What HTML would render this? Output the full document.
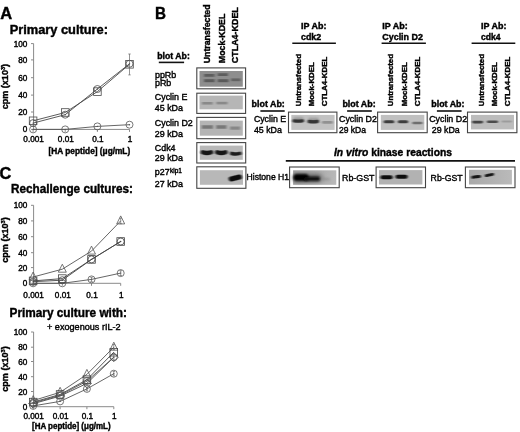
<!DOCTYPE html>
<html><head><meta charset="utf-8"><title>Figure</title>
<style>html,body{margin:0;padding:0;background:#fff}svg{display:block;filter:blur(0.35px)}text{font-family:"Liberation Sans",sans-serif;fill:#000;stroke:#000;stroke-width:0.4px}</style>
</head><body>
<svg width="520" height="432" viewBox="0 0 520 432">
<defs><filter id="b1" filterUnits="userSpaceOnUse" x="0" y="0" width="520" height="432"><feGaussianBlur stdDeviation="0.9 0.7"/></filter><filter id="b4" filterUnits="userSpaceOnUse" x="0" y="0" width="520" height="432"><feGaussianBlur stdDeviation="0.7 0.55"/></filter><filter id="b2" filterUnits="userSpaceOnUse" x="0" y="0" width="520" height="432"><feGaussianBlur stdDeviation="1.2 0.9"/></filter><filter id="b3" filterUnits="userSpaceOnUse" x="0" y="0" width="520" height="432"><feGaussianBlur stdDeviation="2 1.5"/></filter><filter id="b0" filterUnits="userSpaceOnUse" x="0" y="0" width="520" height="432"><feGaussianBlur stdDeviation="0.5"/></filter></defs>
<rect width="520" height="432" fill="#fff"/>
<text x="0.3" y="19" font-size="16.3" font-weight="bold" textLength="11.9" lengthAdjust="spacingAndGlyphs">A</text>
<text x="9.7" y="33.5" font-size="12" font-weight="bold" textLength="98.3" lengthAdjust="spacingAndGlyphs">Primary culture:</text>
<text x="155" y="19.2" font-size="16.3" font-weight="bold" textLength="11" lengthAdjust="spacingAndGlyphs">B</text>
<text x="-0.4" y="179.1" font-size="16.3" font-weight="bold" textLength="11.8" lengthAdjust="spacingAndGlyphs">C</text>
<text x="11" y="193.2" font-size="12" font-weight="bold" textLength="122" lengthAdjust="spacingAndGlyphs">Rechallenge cultures:</text>
<text x="9.5" y="317.1" font-size="12" font-weight="bold" textLength="117.5" lengthAdjust="spacingAndGlyphs">Primary culture with:</text>
<text x="47" y="329.9" font-size="9" textLength="73.6" lengthAdjust="spacingAndGlyphs">+ exogenous rIL-2</text>
<path d="M33.6 43.6V129.4H129.5" fill="none" stroke="#8a8a8a" stroke-width="1"/>
<path d="M31.0 129.4H33.6" stroke="#8a8a8a" stroke-width="1"/>
<text x="27.4" y="132.4" font-size="8.2" text-anchor="end">0</text>
<path d="M31.0 112.0H33.6" stroke="#8a8a8a" stroke-width="1"/>
<text x="27.4" y="115.0" font-size="8.2" text-anchor="end">20</text>
<path d="M31.0 95.1H33.6" stroke="#8a8a8a" stroke-width="1"/>
<text x="27.4" y="98.1" font-size="8.2" text-anchor="end">40</text>
<path d="M31.0 77.7H33.6" stroke="#8a8a8a" stroke-width="1"/>
<text x="27.4" y="80.7" font-size="8.2" text-anchor="end">60</text>
<path d="M31.0 59.9H33.6" stroke="#8a8a8a" stroke-width="1"/>
<text x="27.4" y="62.9" font-size="8.2" text-anchor="end">80</text>
<path d="M31.0 43.6H33.6" stroke="#8a8a8a" stroke-width="1"/>
<text x="27.4" y="46.6" font-size="8.2" text-anchor="end">100</text>
<path d="M33.1 129.4v2.5" stroke="#8a8a8a" stroke-width="1"/>
<path d="M65.2 129.4v2.5" stroke="#8a8a8a" stroke-width="1"/>
<path d="M97.4 129.4v2.5" stroke="#8a8a8a" stroke-width="1"/>
<path d="M129.5 129.4v2.5" stroke="#8a8a8a" stroke-width="1"/>
<text x="33.6" y="142.2" font-size="8.2" text-anchor="middle">0.001</text>
<text x="65.8" y="142.2" font-size="8.2" text-anchor="middle">0.01</text>
<text x="97.9" y="142.2" font-size="8.2" text-anchor="middle">0.1</text>
<text x="130.0" y="142.2" font-size="8.2" text-anchor="middle">1</text>
<text transform="translate(8,86.6) rotate(-90)" font-size="9.05" font-weight="bold" text-anchor="middle">cpm (x10<tspan font-size="5.6" dy="-3.2">3</tspan><tspan dy="3.2">)</tspan></text>
<text x="48.6" y="153.9" font-size="8.2" font-weight="bold" textLength="81.6" lengthAdjust="spacingAndGlyphs">[HA peptide] (&#956;g/mL)</text>
<polyline points="33.1,120.8 65.2,112.5 97.4,91.6 129.5,64.3" fill="none" stroke="#4a4a4a" stroke-width="0.9"/>
<polyline points="33.1,123.1 65.2,114.7 97.4,89.0 129.5,63.8" fill="none" stroke="#4a4a4a" stroke-width="0.9"/>
<polyline points="33.1,129.4 65.2,129.4 97.4,126.4 129.5,124.7" fill="none" stroke="#555" stroke-width="0.9"/>
<rect x="29.3" y="117.0" width="7.6" height="7.6" fill="none" stroke="#4a4a4a" stroke-width="0.8"/>
<rect x="61.5" y="108.7" width="7.6" height="7.6" fill="none" stroke="#4a4a4a" stroke-width="0.8"/>
<rect x="93.6" y="87.8" width="7.6" height="7.6" fill="none" stroke="#4a4a4a" stroke-width="0.8"/>
<rect x="125.7" y="60.5" width="7.6" height="7.6" fill="none" stroke="#4a4a4a" stroke-width="0.8"/>
<circle cx="33.1" cy="123.1" r="3.5" fill="none" stroke="#4a4a4a" stroke-width="0.8"/>
<circle cx="33.1" cy="123.1" r="0.7" fill="#4a4a4a"/>
<circle cx="65.2" cy="114.7" r="3.5" fill="none" stroke="#4a4a4a" stroke-width="0.8"/>
<circle cx="65.2" cy="114.7" r="0.7" fill="#4a4a4a"/>
<circle cx="97.4" cy="89.0" r="3.5" fill="none" stroke="#4a4a4a" stroke-width="0.8"/>
<circle cx="97.4" cy="89.0" r="0.7" fill="#4a4a4a"/>
<circle cx="129.5" cy="63.8" r="3.5" fill="none" stroke="#4a4a4a" stroke-width="0.8"/>
<circle cx="129.5" cy="63.8" r="0.7" fill="#4a4a4a"/>
<circle cx="33.1" cy="129.4" r="3.5" fill="none" stroke="#555" stroke-width="0.8"/>
<circle cx="33.1" cy="129.4" r="0.7" fill="#555"/>
<circle cx="65.2" cy="129.4" r="3.5" fill="none" stroke="#555" stroke-width="0.8"/>
<circle cx="65.2" cy="129.4" r="0.7" fill="#555"/>
<circle cx="97.4" cy="126.4" r="3.5" fill="none" stroke="#555" stroke-width="0.8"/>
<circle cx="97.4" cy="126.4" r="0.7" fill="#555"/>
<circle cx="129.5" cy="124.7" r="3.5" fill="none" stroke="#555" stroke-width="0.8"/>
<circle cx="129.5" cy="124.7" r="0.7" fill="#555"/>
<path d="M129.5 54.0V74.9M128.3 54.0h2.4M128.3 74.9h2.4" stroke="#666" stroke-width="0.7" fill="none"/>
<path d="M33.6 205.3V283.3H120.7" fill="none" stroke="#8a8a8a" stroke-width="1"/>
<path d="M31.0 283.3H33.6" stroke="#8a8a8a" stroke-width="1"/>
<text x="27.4" y="286.3" font-size="8.2" text-anchor="end">0</text>
<path d="M31.0 267.6H33.6" stroke="#8a8a8a" stroke-width="1"/>
<text x="27.4" y="270.6" font-size="8.2" text-anchor="end">20</text>
<path d="M31.0 252.7H33.6" stroke="#8a8a8a" stroke-width="1"/>
<text x="27.4" y="255.7" font-size="8.2" text-anchor="end">40</text>
<path d="M31.0 236.7H33.6" stroke="#8a8a8a" stroke-width="1"/>
<text x="27.4" y="239.7" font-size="8.2" text-anchor="end">60</text>
<path d="M31.0 220.9H33.6" stroke="#8a8a8a" stroke-width="1"/>
<text x="27.4" y="223.9" font-size="8.2" text-anchor="end">80</text>
<path d="M31.0 205.3H33.6" stroke="#8a8a8a" stroke-width="1"/>
<text x="27.4" y="208.3" font-size="8.2" text-anchor="end">100</text>
<path d="M33.1 283.3v2.5" stroke="#8a8a8a" stroke-width="1"/>
<path d="M62.3 283.3v2.5" stroke="#8a8a8a" stroke-width="1"/>
<path d="M91.5 283.3v2.5" stroke="#8a8a8a" stroke-width="1"/>
<path d="M120.7 283.3v2.5" stroke="#8a8a8a" stroke-width="1"/>
<text x="33.6" y="298.1" font-size="8.2" text-anchor="middle">0.001</text>
<text x="62.8" y="298.1" font-size="8.2" text-anchor="middle">0.01</text>
<text x="92.0" y="298.1" font-size="8.2" text-anchor="middle">0.1</text>
<text x="121.2" y="298.1" font-size="8.2" text-anchor="middle">1</text>
<text transform="translate(8,240) rotate(-90)" font-size="9.05" font-weight="bold" text-anchor="middle">cpm (x10<tspan font-size="5.6" dy="-3.2">3</tspan><tspan dy="3.2">)</tspan></text>
<polyline points="33.1,277.0 62.3,269.2 91.5,251.1 120.7,220.9" fill="none" stroke="#555" stroke-width="0.9"/>
<polyline points="33.1,280.9 62.3,278.6 91.5,259.4 120.7,241.5" fill="none" stroke="#444" stroke-width="0.9"/>
<polyline points="33.1,281.7 62.3,280.2 91.5,259.4 120.7,241.5" fill="none" stroke="#444" stroke-width="0.9"/>
<polyline points="33.1,283.3 62.3,283.3 91.5,279.4 120.7,273.1" fill="none" stroke="#555" stroke-width="0.9"/>
<path d="M33.1 272.0l4 8h-8z" fill="none" stroke="#555" stroke-width="0.8"/>
<path d="M62.3 264.2l4 8h-8z" fill="none" stroke="#555" stroke-width="0.8"/>
<path d="M91.5 246.1l4 8h-8z" fill="none" stroke="#555" stroke-width="0.8"/>
<path d="M120.7 215.9l4 8h-8z" fill="none" stroke="#555" stroke-width="0.8"/>
<rect x="29.3" y="277.1" width="7.6" height="7.6" fill="none" stroke="#444" stroke-width="0.8"/>
<rect x="58.5" y="274.8" width="7.6" height="7.6" fill="none" stroke="#444" stroke-width="0.8"/>
<rect x="87.7" y="255.6" width="7.6" height="7.6" fill="none" stroke="#444" stroke-width="0.8"/>
<rect x="116.9" y="237.7" width="7.6" height="7.6" fill="none" stroke="#444" stroke-width="0.8"/>
<circle cx="33.1" cy="281.7" r="3.5" fill="none" stroke="#444" stroke-width="0.8"/>
<circle cx="33.1" cy="281.7" r="0.7" fill="#444"/>
<circle cx="62.3" cy="280.2" r="3.5" fill="none" stroke="#444" stroke-width="0.8"/>
<circle cx="62.3" cy="280.2" r="0.7" fill="#444"/>
<circle cx="91.5" cy="259.4" r="3.5" fill="none" stroke="#444" stroke-width="0.8"/>
<circle cx="91.5" cy="259.4" r="0.7" fill="#444"/>
<circle cx="120.7" cy="241.5" r="3.5" fill="none" stroke="#444" stroke-width="0.8"/>
<circle cx="120.7" cy="241.5" r="0.7" fill="#444"/>
<circle cx="33.1" cy="283.3" r="3.5" fill="none" stroke="#555" stroke-width="0.8"/>
<circle cx="33.1" cy="283.3" r="0.7" fill="#555"/>
<circle cx="62.3" cy="283.3" r="3.5" fill="none" stroke="#555" stroke-width="0.8"/>
<circle cx="62.3" cy="283.3" r="0.7" fill="#555"/>
<circle cx="91.5" cy="279.4" r="3.5" fill="none" stroke="#555" stroke-width="0.8"/>
<circle cx="91.5" cy="279.4" r="0.7" fill="#555"/>
<circle cx="120.7" cy="273.1" r="3.5" fill="none" stroke="#555" stroke-width="0.8"/>
<circle cx="120.7" cy="273.1" r="0.7" fill="#555"/>
<path d="M91.5 277.3V281.4M90.3 277.3h2.4M90.3 281.4h2.4" stroke="#666" stroke-width="0.7" fill="none"/>
<path d="M120.7 270.7V275.5M119.5 270.7h2.4M119.5 275.5h2.4" stroke="#666" stroke-width="0.7" fill="none"/>
<path d="M120.7 218.2V223.7M119.5 218.2h2.4M119.5 223.7h2.4" stroke="#666" stroke-width="0.7" fill="none"/>
<path d="M33.6 332.0V406.7H113.8" fill="none" stroke="#8a8a8a" stroke-width="1"/>
<path d="M31.0 406.7H33.6" stroke="#8a8a8a" stroke-width="1"/>
<text x="27.4" y="409.7" font-size="8.2" text-anchor="end">0</text>
<path d="M31.0 391.5H33.6" stroke="#8a8a8a" stroke-width="1"/>
<text x="27.4" y="394.5" font-size="8.2" text-anchor="end">20</text>
<path d="M31.0 376.7H33.6" stroke="#8a8a8a" stroke-width="1"/>
<text x="27.4" y="379.7" font-size="8.2" text-anchor="end">40</text>
<path d="M31.0 361.5H33.6" stroke="#8a8a8a" stroke-width="1"/>
<text x="27.4" y="364.5" font-size="8.2" text-anchor="end">60</text>
<path d="M31.0 347.2H33.6" stroke="#8a8a8a" stroke-width="1"/>
<text x="27.4" y="350.2" font-size="8.2" text-anchor="end">80</text>
<path d="M31.0 332.0H33.6" stroke="#8a8a8a" stroke-width="1"/>
<text x="27.4" y="335.0" font-size="8.2" text-anchor="end">100</text>
<path d="M33.2 406.7v2.5" stroke="#8a8a8a" stroke-width="1"/>
<path d="M60.1 406.7v2.5" stroke="#8a8a8a" stroke-width="1"/>
<path d="M86.9 406.7v2.5" stroke="#8a8a8a" stroke-width="1"/>
<path d="M113.8 406.7v2.5" stroke="#8a8a8a" stroke-width="1"/>
<text x="33.7" y="419" font-size="8.2" text-anchor="middle">0.001</text>
<text x="60.6" y="419" font-size="8.2" text-anchor="middle">0.01</text>
<text x="87.4" y="419" font-size="8.2" text-anchor="middle">0.1</text>
<text x="114.3" y="419" font-size="8.2" text-anchor="middle">1</text>
<text transform="translate(8,369) rotate(-90)" font-size="9.05" font-weight="bold" text-anchor="middle">cpm (x10<tspan font-size="5.6" dy="-3.2">3</tspan><tspan dy="3.2">)</tspan></text>
<text x="32" y="428.9" font-size="8.2" font-weight="bold" textLength="78.6" lengthAdjust="spacingAndGlyphs">[HA peptide] (&#956;g/mL)</text>
<polyline points="33.2,400.6 60.1,392.3 86.9,374.4 113.8,347.2" fill="none" stroke="#555" stroke-width="0.9"/>
<polyline points="33.2,402.1 60.1,394.5 86.9,379.7 113.8,352.2" fill="none" stroke="#444" stroke-width="0.9"/>
<polyline points="33.2,403.7 60.1,396.1 86.9,383.4 113.8,357.2" fill="none" stroke="#444" stroke-width="0.9"/>
<polyline points="33.2,402.9 60.1,395.3 86.9,381.1 113.8,357.2" fill="none" stroke="#555" stroke-width="0.9"/>
<polyline points="33.2,405.9 60.1,401.4 86.9,388.9 113.8,373.7" fill="none" stroke="#555" stroke-width="0.9"/>
<path d="M33.2 395.6l4 8h-8z" fill="none" stroke="#555" stroke-width="0.8"/>
<path d="M60.1 387.3l4 8h-8z" fill="none" stroke="#555" stroke-width="0.8"/>
<path d="M86.9 369.4l4 8h-8z" fill="none" stroke="#555" stroke-width="0.8"/>
<path d="M113.8 342.2l4 8h-8z" fill="none" stroke="#555" stroke-width="0.8"/>
<rect x="29.4" y="398.3" width="7.6" height="7.6" fill="none" stroke="#444" stroke-width="0.8"/>
<rect x="56.3" y="390.7" width="7.6" height="7.6" fill="none" stroke="#444" stroke-width="0.8"/>
<rect x="83.1" y="375.9" width="7.6" height="7.6" fill="none" stroke="#444" stroke-width="0.8"/>
<rect x="110.0" y="348.4" width="7.6" height="7.6" fill="none" stroke="#444" stroke-width="0.8"/>
<path d="M33.2 399.2l4.5 4.5l-4.5 4.5l-4.5 -4.5z" fill="none" stroke="#444" stroke-width="0.8"/>
<path d="M60.1 391.6l4.5 4.5l-4.5 4.5l-4.5 -4.5z" fill="none" stroke="#444" stroke-width="0.8"/>
<path d="M86.9 378.9l4.5 4.5l-4.5 4.5l-4.5 -4.5z" fill="none" stroke="#444" stroke-width="0.8"/>
<path d="M113.8 352.7l4.5 4.5l-4.5 4.5l-4.5 -4.5z" fill="none" stroke="#444" stroke-width="0.8"/>
<circle cx="33.2" cy="402.9" r="3.5" fill="none" stroke="#555" stroke-width="0.8"/>
<circle cx="33.2" cy="402.9" r="0.7" fill="#555"/>
<circle cx="60.1" cy="395.3" r="3.5" fill="none" stroke="#555" stroke-width="0.8"/>
<circle cx="60.1" cy="395.3" r="0.7" fill="#555"/>
<circle cx="86.9" cy="381.1" r="3.5" fill="none" stroke="#555" stroke-width="0.8"/>
<circle cx="86.9" cy="381.1" r="0.7" fill="#555"/>
<circle cx="113.8" cy="357.2" r="3.5" fill="none" stroke="#555" stroke-width="0.8"/>
<circle cx="113.8" cy="357.2" r="0.7" fill="#555"/>
<circle cx="33.2" cy="405.9" r="3.5" fill="none" stroke="#555" stroke-width="0.8"/>
<circle cx="33.2" cy="405.9" r="0.7" fill="#555"/>
<circle cx="60.1" cy="401.4" r="3.5" fill="none" stroke="#555" stroke-width="0.8"/>
<circle cx="60.1" cy="401.4" r="0.7" fill="#555"/>
<circle cx="86.9" cy="388.9" r="3.5" fill="none" stroke="#555" stroke-width="0.8"/>
<circle cx="86.9" cy="388.9" r="0.7" fill="#555"/>
<circle cx="113.8" cy="373.7" r="3.5" fill="none" stroke="#555" stroke-width="0.8"/>
<circle cx="113.8" cy="373.7" r="0.7" fill="#555"/>
<path d="M113.8 371.4V375.9M112.6 371.4h2.4M112.6 375.9h2.4" stroke="#666" stroke-width="0.7" fill="none"/>
<path d="M113.8 344.5V349.7M112.6 344.5h2.4M112.6 349.7h2.4" stroke="#666" stroke-width="0.7" fill="none"/>
<path d="M86.9 387.1V390.8M85.7 387.1h2.4M85.7 390.8h2.4" stroke="#666" stroke-width="0.7" fill="none"/>
<path d="M113.8 354.4V360.1M112.6 354.4h2.4M112.6 360.1h2.4" stroke="#666" stroke-width="0.7" fill="none"/>
<text x="157.3" y="59.2" font-size="8.6" font-weight="bold" textLength="32.5" lengthAdjust="spacingAndGlyphs">blot Ab:</text>
<path d="M158.8 62.4H184.1" stroke="#111" stroke-width="1.6"/>
<text transform="translate(210.2,63.3) rotate(-90)" font-size="8.8" font-weight="bold" textLength="58.9" lengthAdjust="spacingAndGlyphs">Untransfected</text>
<text transform="translate(224.9,63.2) rotate(-90)" font-size="8.8" font-weight="bold" textLength="49.6" lengthAdjust="spacingAndGlyphs">Mock-KDEL</text>
<text transform="translate(238.1,63.2) rotate(-90)" font-size="8.8" font-weight="bold" textLength="56" lengthAdjust="spacingAndGlyphs">CTLA4-KDEL</text>
<rect x="196.8" y="67.9" width="48.8" height="20.9" fill="#fff" stroke="#444" stroke-width="1.1"/>
<rect x="199.5" y="71.0" width="43.3" height="15.7" fill="#8e8e8e" filter="url(#b0)"/>
<path d="M204.1 75.4Q209.3 75.4 214.5 75.4" fill="none" stroke="#585858" stroke-width="2.8" stroke-linecap="butt" opacity="0.9" filter="url(#b1)"/>
<path d="M217.7 74.6Q222.8 74.6 227.9 74.6" fill="none" stroke="#585858" stroke-width="2.8" stroke-linecap="butt" opacity="0.9" filter="url(#b1)"/>
<path d="M204.1 80.7Q209.4 80.7 214.7 80.7" fill="none" stroke="#545454" stroke-width="3" stroke-linecap="butt" opacity="0.9" filter="url(#b1)"/>
<path d="M217.7 80.7Q223.1 80.7 228.5 80.7" fill="none" stroke="#545454" stroke-width="3" stroke-linecap="butt" opacity="0.9" filter="url(#b1)"/>
<path d="M231.1 79.8Q235.8 79.8 240.5 79.8" fill="none" stroke="#5c5c5c" stroke-width="2.8" stroke-linecap="butt" opacity="0.85" filter="url(#b1)"/>
<text x="155" y="78" font-size="8.9">ppRb</text>
<text x="155" y="86.2" font-size="8.9">pRb</text>
<rect x="196.8" y="93.2" width="48.8" height="20.2" fill="#fff" stroke="#444" stroke-width="1.1"/>
<rect x="199.5" y="95.6" width="43.3" height="13.7" fill="#b6b6b6" filter="url(#b0)"/>
<path d="M201.9 103.3Q207.3 103.3 212.7 103.3" fill="none" stroke="#858585" stroke-width="2.6" stroke-linecap="butt" opacity="0.9" filter="url(#b1)"/>
<path d="M216.3 103.1Q221.9 103.1 227.5 103.1" fill="none" stroke="#858585" stroke-width="2.6" stroke-linecap="butt" opacity="0.9" filter="url(#b1)"/>
<text x="154.8" y="100.3" font-size="8.9">Cyclin E</text>
<text x="154.8" y="110.8" font-size="8.9">45 kDa</text>
<rect x="196.8" y="117.4" width="48.9" height="21.3" fill="#fff" stroke="#444" stroke-width="1.1"/>
<rect x="199.8" y="120.6" width="43.0" height="15.1" fill="#b4b4b4" filter="url(#b0)"/>
<path d="M201.7 127.0Q207.3 127.0 213.0 127.0" fill="none" stroke="#727272" stroke-width="3.5" stroke-linecap="butt" opacity="0.9" filter="url(#b1)"/>
<path d="M216.2 127.0Q221.3 127.0 226.5 127.0" fill="none" stroke="#727272" stroke-width="3.5" stroke-linecap="butt" opacity="0.9" filter="url(#b1)"/>
<path d="M230.0 128.1Q235.1 128.1 240.1 128.1" fill="none" stroke="#808080" stroke-width="3.2" stroke-linecap="butt" opacity="0.85" filter="url(#b1)"/>
<text x="154.8" y="125.5" font-size="8.9">Cyclin D2</text>
<text x="154.8" y="136.8" font-size="8.9">29 kDa</text>
<rect x="196.8" y="142.6" width="48.9" height="20.4" fill="#fff" stroke="#444" stroke-width="1.1"/>
<rect x="199.8" y="145.6" width="43.0" height="14.2" fill="#b8b8b8" filter="url(#b0)"/>
<path d="M202.8 152.2Q206.9 153.7 211.1 152.2" fill="none" stroke="#141414" stroke-width="4.4" stroke-linecap="round" opacity="1" filter="url(#b1)"/>
<path d="M217.2 152.3Q221.3 153.8 225.5 152.3" fill="none" stroke="#141414" stroke-width="4.4" stroke-linecap="round" opacity="1" filter="url(#b1)"/>
<path d="M231.7 153.4Q235.8 154.6 239.8 153.4" fill="none" stroke="#1c1c1c" stroke-width="3.6" stroke-linecap="round" opacity="1" filter="url(#b1)"/>
<text x="154.8" y="150.6" font-size="8.9">Cdk4</text>
<text x="154.8" y="160.8" font-size="8.9">29 kDa</text>
<rect x="196.8" y="166.8" width="49.1" height="21.5" fill="#fff" stroke="#444" stroke-width="1.1"/>
<rect x="199.9" y="170.2" width="43.1" height="14.6" fill="#b8b8b8" filter="url(#b0)"/>
<path d="M231.2 179.0Q235.3 178.0 239.4 177.0" fill="none" stroke="#0c0c0c" stroke-width="5" stroke-linecap="round" opacity="1" filter="url(#b1)"/>
<text x="154.8" y="175.2" font-size="8.9">p27<tspan font-size="6.5" dy="-2.5" dx="0.4">kip1</tspan></text>
<text x="154.8" y="186.6" font-size="8.9">27 kDa</text>
<text x="246.5" y="180" font-size="9.1" textLength="42.6" lengthAdjust="spacingAndGlyphs">Histone H1</text>
<text x="301" y="29.4" font-size="8.8" font-weight="bold" textLength="25.4" lengthAdjust="spacingAndGlyphs">IP Ab:</text>
<text x="301" y="39.8" font-size="8.8" font-weight="bold" textLength="20.2" lengthAdjust="spacingAndGlyphs">cdk2</text>
<path d="M292.3 43.3H335.9" stroke="#111" stroke-width="1.6"/>
<text x="382.3" y="29.4" font-size="8.8" font-weight="bold" textLength="25.4" lengthAdjust="spacingAndGlyphs">IP Ab:</text>
<text x="382.3" y="39.8" font-size="8.8" font-weight="bold" textLength="40.6" lengthAdjust="spacingAndGlyphs">Cyclin D2</text>
<path d="M381.6 43.3H425.9" stroke="#111" stroke-width="1.6"/>
<text x="481.1" y="29.4" font-size="8.8" font-weight="bold" textLength="25.4" lengthAdjust="spacingAndGlyphs">IP Ab:</text>
<text x="481.1" y="39.8" font-size="8.8" font-weight="bold" textLength="19.5" lengthAdjust="spacingAndGlyphs">cdk4</text>
<path d="M471.6 43.3H515.3" stroke="#111" stroke-width="1.6"/>
<text transform="translate(301.2,106.2) rotate(-90)" font-size="7.8" font-weight="bold" textLength="52.1" lengthAdjust="spacingAndGlyphs">Untransfected</text>
<text transform="translate(314.3,106.2) rotate(-90)" font-size="7.8" font-weight="bold" textLength="43.9" lengthAdjust="spacingAndGlyphs">Mock-KDEL</text>
<text transform="translate(326.7,106.2) rotate(-90)" font-size="7.8" font-weight="bold" textLength="49.4" lengthAdjust="spacingAndGlyphs">CTLA4-KDEL</text>
<text transform="translate(393.0,106.2) rotate(-90)" font-size="7.8" font-weight="bold" textLength="52.1" lengthAdjust="spacingAndGlyphs">Untransfected</text>
<text transform="translate(407.0,106.2) rotate(-90)" font-size="7.8" font-weight="bold" textLength="43.9" lengthAdjust="spacingAndGlyphs">Mock-KDEL</text>
<text transform="translate(419.6,106.2) rotate(-90)" font-size="7.8" font-weight="bold" textLength="49.4" lengthAdjust="spacingAndGlyphs">CTLA4-KDEL</text>
<text transform="translate(484.4,106.2) rotate(-90)" font-size="7.8" font-weight="bold" textLength="52.1" lengthAdjust="spacingAndGlyphs">Untransfected</text>
<text transform="translate(497.1,106.2) rotate(-90)" font-size="7.8" font-weight="bold" textLength="43.9" lengthAdjust="spacingAndGlyphs">Mock-KDEL</text>
<text transform="translate(509.5,106.2) rotate(-90)" font-size="7.8" font-weight="bold" textLength="49.4" lengthAdjust="spacingAndGlyphs">CTLA4-KDEL</text>
<text x="251.6" y="107.3" font-size="8.9" font-weight="bold" textLength="33.2" lengthAdjust="spacingAndGlyphs">blot Ab:</text>
<path d="M260.4 111H284.7" stroke="#111" stroke-width="1.6"/>
<text x="342.4" y="107.3" font-size="8.9" font-weight="bold" textLength="33.2" lengthAdjust="spacingAndGlyphs">blot Ab:</text>
<path d="M347.1 111H371.8" stroke="#111" stroke-width="1.6"/>
<text x="431.3" y="107.3" font-size="8.9" font-weight="bold" textLength="33.2" lengthAdjust="spacingAndGlyphs">blot Ab:</text>
<path d="M436.9 111H461.6" stroke="#111" stroke-width="1.6"/>
<text x="253.9" y="121.9" font-size="9.1" textLength="32.2" lengthAdjust="spacingAndGlyphs">Cyclin E</text>
<text x="253.9" y="132.7" font-size="9.1" textLength="28" lengthAdjust="spacingAndGlyphs">45 kDa</text>
<text x="339" y="121.9" font-size="9.1" textLength="37.8" lengthAdjust="spacingAndGlyphs">Cyclin D2</text>
<text x="339" y="132.8" font-size="9.1" textLength="27" lengthAdjust="spacingAndGlyphs">29 kDa</text>
<text x="429.2" y="121.9" font-size="9.1" textLength="37.9" lengthAdjust="spacingAndGlyphs">Cyclin D2</text>
<text x="431.8" y="132.8" font-size="9.1" textLength="28" lengthAdjust="spacingAndGlyphs">29 kDa</text>
<rect x="288.5" y="112.1" width="48.4" height="20.6" fill="#fff" stroke="#444" stroke-width="1.1"/>
<rect x="291.3" y="114.9" width="43.3" height="15.0" fill="#c2c2c2" filter="url(#b0)"/>
<path d="M295.1 119.4Q298.3 119.4 301.6 119.4" fill="none" stroke="#777" stroke-width="4.5" stroke-linecap="round" opacity="0.55" filter="url(#b2)"/>
<path d="M310.2 120.0Q313.4 120.0 316.6 120.0" fill="none" stroke="#777" stroke-width="4.5" stroke-linecap="round" opacity="0.5" filter="url(#b2)"/>
<path d="M294.1 120.9Q298.2 121.5 302.4 120.9" fill="none" stroke="#303030" stroke-width="3.3" stroke-linecap="round" opacity="1" filter="url(#b1)"/>
<path d="M309.1 121.5Q313.2 122.2 317.4 121.5" fill="none" stroke="#343434" stroke-width="3.3" stroke-linecap="round" opacity="1" filter="url(#b1)"/>
<path d="M323.2 122.4Q327.4 122.4 331.6 122.4" fill="none" stroke="#8c8c8c" stroke-width="2.6" stroke-linecap="round" opacity="0.9" filter="url(#b1)"/>
<rect x="377.6" y="112.1" width="49.6" height="20.6" fill="#fff" stroke="#444" stroke-width="1.1"/>
<rect x="380.8" y="114.9" width="43.5" height="15.0" fill="#c0c0c0" filter="url(#b0)"/>
<path d="M385.1 121.8Q389.0 121.8 392.8 121.8" fill="none" stroke="#3c3c3c" stroke-width="3" stroke-linecap="round" opacity="1" filter="url(#b1)"/>
<path d="M399.3 121.8Q403.0 121.8 406.7 121.8" fill="none" stroke="#3c3c3c" stroke-width="3" stroke-linecap="round" opacity="1" filter="url(#b1)"/>
<path d="M413.5 123.0Q417.4 123.0 421.3 123.0" fill="none" stroke="#666" stroke-width="2.6" stroke-linecap="round" opacity="0.9" filter="url(#b1)"/>
<rect x="467.5" y="112.1" width="49.4" height="20.6" fill="#fff" stroke="#444" stroke-width="1.1"/>
<rect x="471.0" y="114.9" width="43.0" height="14.5" fill="#bcbcbc" filter="url(#b0)"/>
<path d="M473.5 122.1Q477.6 122.1 481.7 122.1" fill="none" stroke="#444" stroke-width="2.8" stroke-linecap="round" opacity="1" filter="url(#b1)"/>
<path d="M488.1 121.8Q492.5 121.8 496.8 121.8" fill="none" stroke="#4c4c4c" stroke-width="2.6" stroke-linecap="round" opacity="1" filter="url(#b1)"/>
<path d="M502.5 121.6Q506.7 121.6 510.9 121.6" fill="none" stroke="#999" stroke-width="2" stroke-linecap="round" opacity="0.9" filter="url(#b1)"/>
<text x="334" y="156.4" font-size="10.9" font-weight="bold" textLength="118" lengthAdjust="spacingAndGlyphs"><tspan font-style="italic">In vitro</tspan> kinase reactions</text>
<path d="M285.8 160.9H515" stroke="#111" stroke-width="1.6"/>
<rect x="289.6" y="167.0" width="49.6" height="20.7" fill="#fff" stroke="#444" stroke-width="1.1"/>
<linearGradient id="g289_166"><stop offset="0" stop-color="#9c9c9c"/><stop offset="1" stop-color="#b8b8b8"/></linearGradient>
<rect x="293.1" y="170.3" width="43.2" height="14.5" fill="url(#g289_166)" filter="url(#b0)"/>
<path d="M297.5 178.0Q307.8 178.0 318.0 178.0" fill="none" stroke="#555" stroke-width="10" stroke-linecap="round" opacity="0.5" filter="url(#b3)"/>
<path d="M296.8 177.6Q301.0 177.6 305.2 177.6" fill="none" stroke="#050505" stroke-width="7" stroke-linecap="round" opacity="1" filter="url(#b2)"/>
<path d="M306.2 178.7Q312.1 178.7 317.9 178.7" fill="none" stroke="#0a0a0a" stroke-width="4.5" stroke-linecap="round" opacity="1" filter="url(#b2)"/>
<path d="M323.2 179.2Q326.0 179.2 328.8 179.2" fill="none" stroke="#777" stroke-width="2.5" stroke-linecap="round" opacity="0.4" filter="url(#b2)"/>
<text x="342" y="180.8" font-size="9.3" textLength="32.5" lengthAdjust="spacingAndGlyphs">Rb-GST</text>
<rect x="376.1" y="167.0" width="49.4" height="20.7" fill="#fff" stroke="#444" stroke-width="1.1"/>
<rect x="379.0" y="170.1" width="43.4" height="14.4" fill="#b2b2b2" filter="url(#b0)"/>
<path d="M382.5 177.2Q386.6 177.2 390.6 177.2" fill="none" stroke="#0c0c0c" stroke-width="4" stroke-linecap="round" opacity="1" filter="url(#b1)"/>
<path d="M397.5 176.7Q401.6 176.7 405.6 176.7" fill="none" stroke="#0c0c0c" stroke-width="4" stroke-linecap="round" opacity="1" filter="url(#b1)"/>
<text x="430.6" y="180.6" font-size="9.2" textLength="32" lengthAdjust="spacingAndGlyphs">Rb-GST</text>
<rect x="465.4" y="167.0" width="49.6" height="20.7" fill="#fff" stroke="#444" stroke-width="1.1"/>
<linearGradient id="g464_166"><stop offset="0" stop-color="#a8a8a8"/><stop offset="1" stop-color="#bababa"/></linearGradient>
<rect x="469.0" y="169.8" width="42.9" height="14.7" fill="url(#g464_166)" filter="url(#b0)"/>
<path d="M472.8 177.2Q476.1 176.8 479.4 176.5" fill="none" stroke="#141414" stroke-width="3" stroke-linecap="round" opacity="1" filter="url(#b1)"/>
<path d="M486.3 175.6Q489.4 175.0 492.5 174.4" fill="none" stroke="#141414" stroke-width="3" stroke-linecap="round" opacity="1" filter="url(#b1)"/>
</svg></body></html>
